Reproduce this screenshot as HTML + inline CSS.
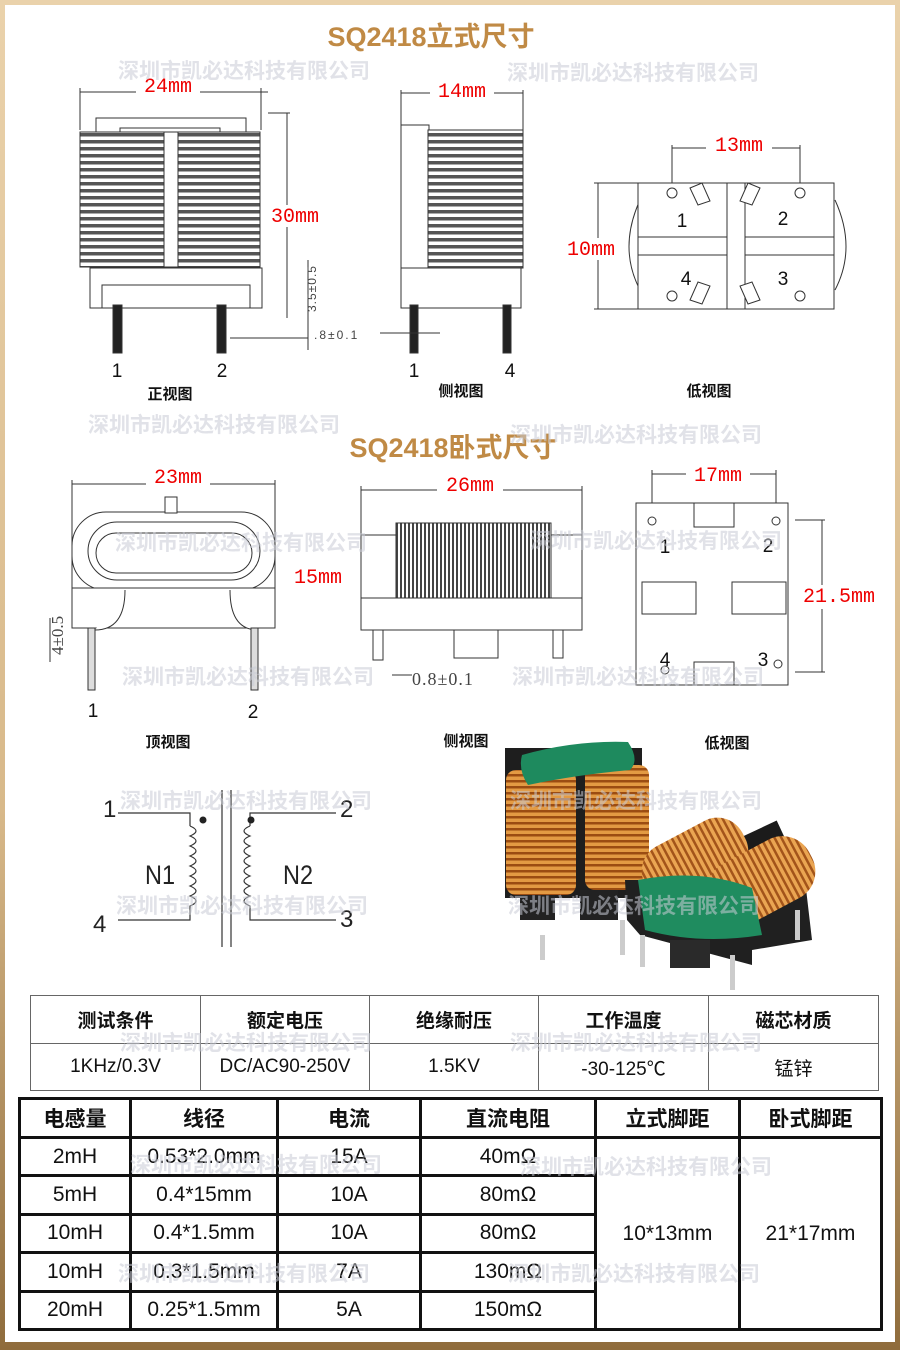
<!DOCTYPE html>
<html><head><meta charset="utf-8"><style>
html,body{margin:0;padding:0;}
body{width:900px;height:1350px;position:relative;overflow:hidden;background:linear-gradient(#ead2ab,#d8b98a 60%,#8f6c3c);font-family:"Liberation Sans","Noto Sans CJK SC",sans-serif;}
#in{position:absolute;left:5px;top:5px;width:890px;height:1337px;background:#fff;}
svg{position:absolute;left:0;top:0;}
.t{font-family:"Liberation Sans","Noto Sans CJK SC",sans-serif;}
.r{fill:#e00;font-family:"Liberation Mono","Noto Serif CJK SC",monospace;font-size:20px;}
.wm{fill:#c9ccd6;opacity:.55;font-size:21px;font-family:"Noto Sans CJK SC",sans-serif;font-weight:bold;}
.lab{font-size:15px;font-weight:bold;fill:#111;font-family:"Noto Sans CJK SC",sans-serif;}
.num{font-size:19px;fill:#111;}
table{position:absolute;border-collapse:collapse;table-layout:fixed;font-family:"Liberation Sans","Noto Sans CJK SC",sans-serif;text-align:center;color:#111;}
</style></head><body>
<div id="in"></div>
<svg width="900" height="1350" viewBox="0 0 900 1350">
<defs>
<pattern id="wind" width="6" height="7" patternUnits="userSpaceOnUse"><rect width="6" height="7" fill="#fff"/><rect y="0" width="6" height="3.5" fill="#555"/></pattern>
<pattern id="vw" width="4" height="6" patternUnits="userSpaceOnUse"><rect width="4" height="6" fill="#fff"/><rect width="2" height="6" fill="#444"/></pattern>
<pattern id="cu" width="6" height="6" patternUnits="userSpaceOnUse"><rect width="6" height="6" fill="#e39a43"/><rect width="6" height="2.5" fill="#9b4c12"/></pattern>
<pattern id="cu2" width="6" height="6" patternUnits="userSpaceOnUse"><rect width="6" height="6" fill="#eaa552"/><rect width="2.5" height="6" fill="#a3541a"/></pattern>
</defs>
<text x="431" y="46" text-anchor="middle" font-size="27" font-weight="bold" fill="#c08a45" class="t">SQ2418立式尺寸</text>
<text x="453" y="457" text-anchor="middle" font-size="27" font-weight="bold" fill="#c08a45" class="t">SQ2418卧式尺寸</text>

<!-- 正视图 -->
<g stroke="#333" fill="#fff" stroke-width="1">
<line x1="80" y1="92" x2="268" y2="92"/><line x1="80" y1="88" x2="80" y2="130"/><line x1="261" y1="88" x2="261" y2="130"/>
<rect x="96" y="118" width="150" height="14"/><rect x="120" y="128" width="100" height="10"/>
<rect x="80" y="132" width="180" height="135" fill="url(#wind)"/>
<rect x="164" y="132" width="14" height="135"/>
<rect x="90" y="268" width="172" height="40"/>
<rect x="102" y="285" width="148" height="23"/>
<rect x="113" y="305" width="9" height="48" fill="#222"/><rect x="217" y="305" width="9" height="48" fill="#222"/>
<line x1="268" y1="113" x2="290" y2="113"/><line x1="287" y1="113" x2="287" y2="318"/>
<line x1="308" y1="260" x2="308" y2="350"/><line x1="230" y1="338" x2="308" y2="338"/>
</g>
<rect x="136" y="76" width="64" height="22" fill="#fff"/><text x="168" y="92" text-anchor="middle" class="r">24mm</text>
<rect x="264" y="205" width="62" height="22" fill="#fff"/><text x="295" y="222" text-anchor="middle" class="r">30mm</text>
<text x="316" y="312" transform="rotate(-90 316 312)" font-size="12" fill="#444" letter-spacing="1">3.5±0.5</text>
<text x="314" y="339" font-size="12" fill="#444" letter-spacing="2">.8±0.1</text>
<text x="117" y="377" text-anchor="middle" class="num">1</text><text x="222" y="377" text-anchor="middle" class="num">2</text>
<text x="170" y="399" text-anchor="middle" class="lab">正视图</text>

<!-- 侧视图 upright -->
<g stroke="#333" fill="#fff">
<line x1="401" y1="93" x2="523" y2="93"/><line x1="401" y1="90" x2="401" y2="300"/><line x1="523" y1="90" x2="523" y2="140"/>
<rect x="401" y="125" width="28" height="145"/><rect x="428" y="130" width="95" height="138" fill="url(#wind)"/>
<rect x="401" y="268" width="120" height="40"/>
<rect x="410" y="305" width="8" height="48" fill="#222"/><rect x="503" y="305" width="8" height="48" fill="#222"/>
<line x1="380" y1="333" x2="440" y2="333"/>
</g>
<rect x="430" y="80" width="64" height="22" fill="#fff"/><text x="462" y="97" text-anchor="middle" class="r">14mm</text>
<text x="414" y="377" text-anchor="middle" class="num">1</text><text x="510" y="377" text-anchor="middle" class="num">4</text>
<text x="461" y="396" text-anchor="middle" class="lab">侧视图</text>

<!-- 低视图 upright -->
<g stroke="#333" fill="#fff">
<line x1="672" y1="148" x2="800" y2="148"/><line x1="672" y1="145" x2="672" y2="185"/><line x1="800" y1="145" x2="800" y2="185"/>
<path d="M640 200 Q618 248 640 290 M835 200 Q857 248 835 290"/>
<rect x="638" y="183" width="196" height="126"/>
<rect x="638" y="237" width="196" height="18"/><rect x="727" y="183" width="18" height="126"/>
<line x1="598" y1="183" x2="598" y2="309"/><line x1="594" y1="183" x2="640" y2="183"/><line x1="594" y1="309" x2="640" y2="309"/>
<circle cx="672" cy="193" r="5"/><circle cx="800" cy="193" r="5"/><circle cx="672" cy="296" r="5"/><circle cx="800" cy="296" r="5"/>
<path d="M690 188 l12 -5 l8 18 l-12 4z M760 188 l-12 -5 l-8 18 l12 4z M690 300 l12 4 l8 -18 l-12 -4z M760 300 l-12 4 l-8 -18 l12 -4z"/>
</g>
<rect x="706" y="135" width="66" height="22" fill="#fff"/><text x="739" y="151" text-anchor="middle" class="r">13mm</text>
<rect x="560" y="238" width="62" height="22" fill="#fff"/><text x="591" y="255" text-anchor="middle" class="r">10mm</text>
<text x="682" y="227" text-anchor="middle" class="num">1</text><text x="783" y="225" text-anchor="middle" class="num">2</text>
<text x="686" y="285" text-anchor="middle" class="num">4</text><text x="783" y="285" text-anchor="middle" class="num">3</text>
<text x="709" y="396" text-anchor="middle" class="lab">低视图</text>

<!-- 顶视图 horizontal -->
<g stroke="#333" fill="#fff">
<line x1="72" y1="484" x2="275" y2="484"/><line x1="72" y1="480" x2="72" y2="590"/><line x1="275" y1="480" x2="275" y2="590"/>
<rect x="72" y="512" width="203" height="78" rx="34"/><rect x="88" y="522" width="172" height="58" rx="29"/>
<rect x="96" y="533" width="156" height="40" rx="20"/>
<rect x="165" y="497" width="12" height="16"/>
<rect x="72" y="588" width="203" height="40"/>
<path d="M125 590 Q125 630 95 630 M230 590 Q230 630 258 630"/>
<rect x="88" y="628" width="7" height="62" fill="#ddd"/><rect x="251" y="628" width="7" height="62" fill="#ddd"/>
<line x1="50" y1="618" x2="50" y2="662"/>
</g>
<rect x="146" y="466" width="64" height="22" fill="#fff"/><text x="178" y="483" text-anchor="middle" class="r">23mm</text>
<text x="318" y="583" text-anchor="middle" class="r">15mm</text>
<text x="63" y="655" transform="rotate(-90 63 655)" font-size="17" fill="#444" font-family="Liberation Serif">4±0.5</text>
<text x="93" y="717" text-anchor="middle" class="num">1</text><text x="253" y="718" text-anchor="middle" class="num">2</text>
<text x="168" y="747" text-anchor="middle" class="lab">顶视图</text>

<!-- 侧视图 horizontal -->
<g stroke="#333" fill="#fff">
<line x1="361" y1="490" x2="582" y2="490"/><line x1="361" y1="486" x2="361" y2="600"/><line x1="582" y1="486" x2="582" y2="600"/>
<rect x="361" y="535" width="36" height="65"/><rect x="548" y="535" width="34" height="65"/>
<rect x="396" y="523" width="155" height="82" fill="url(#vw)"/>
<rect x="361" y="598" width="221" height="32"/>
<rect x="454" y="630" width="44" height="28"/>
<rect x="373" y="630" width="10" height="30"/><rect x="553" y="630" width="10" height="28"/>
<line x1="392" y1="675" x2="412" y2="675"/>
</g>
<rect x="437" y="474" width="66" height="22" fill="#fff"/><text x="470" y="491" text-anchor="middle" class="r">26mm</text>
<text x="412" y="685" font-size="18" fill="#444" font-family="Liberation Serif" letter-spacing="1">0.8±0.1</text>
<text x="466" y="746" text-anchor="middle" class="lab">侧视图</text>

<!-- 低视图 horizontal -->
<g stroke="#333" fill="#fff">
<line x1="652" y1="474" x2="776" y2="474"/><line x1="652" y1="470" x2="652" y2="505"/><line x1="776" y1="470" x2="776" y2="505"/>
<rect x="636" y="503" width="152" height="182"/>
<rect x="642" y="582" width="54" height="32"/><rect x="732" y="582" width="54" height="32"/>
<rect x="694" y="503" width="40" height="24"/><rect x="694" y="662" width="40" height="23"/>
<circle cx="652" cy="521" r="4"/><circle cx="776" cy="521" r="4"/><circle cx="665" cy="670" r="4"/><circle cx="778" cy="664" r="4"/>
<line x1="795" y1="520" x2="825" y2="520"/><line x1="795" y1="672" x2="825" y2="672"/><line x1="822" y1="520" x2="822" y2="672"/>
</g>
<rect x="686" y="464" width="64" height="22" fill="#fff"/><text x="718" y="481" text-anchor="middle" class="r">17mm</text>
<rect x="792" y="585" width="95" height="24" fill="#fff"/><text x="839" y="602" text-anchor="middle" class="r">21.5mm</text>
<text x="665" y="553" text-anchor="middle" class="num">1</text><text x="768" y="552" text-anchor="middle" class="num">2</text>
<text x="665" y="666" text-anchor="middle" class="num">4</text><text x="763" y="666" text-anchor="middle" class="num">3</text>
<text x="727" y="748" text-anchor="middle" class="lab">低视图</text>

<!-- schematic -->
<g stroke="#333" fill="none" stroke-width="1.2">
<line x1="222" y1="790" x2="222" y2="947"/><line x1="231" y1="790" x2="231" y2="947"/>
<path d="M118 813 H190 V826"/><path d="M118 920 H190 V908"/>
<path d="M336 813 H250 V826"/><path d="M336 920 H250 V908"/>
<path d="M190 826 q12 5 0 10 q12 5 0 10 q12 5 0 10 q12 5 0 10 q12 5 0 10 q12 5 0 10 q12 5 0 10 q12 5 0 10 V908"/>
<path d="M250 826 q-12 5 0 10 q-12 5 0 10 q-12 5 0 10 q-12 5 0 10 q-12 5 0 10 q-12 5 0 10 q-12 5 0 10 q-12 5 0 10 V908"/>
</g>
<circle cx="203" cy="820" r="3.5" fill="#222"/><circle cx="251" cy="820" r="3.5" fill="#222"/>
<text x="103" y="817" font-size="24" fill="#222">1</text>
<text x="340" y="817" font-size="24" fill="#222">2</text>
<text x="93" y="932" font-size="24" fill="#222">4</text><text x="340" y="927" font-size="24" fill="#222">3</text>
<text x="145" y="884" font-size="27" fill="#222" textLength="30" lengthAdjust="spacingAndGlyphs">N1</text>
<text x="283" y="884" font-size="27" fill="#222" textLength="30" lengthAdjust="spacingAndGlyphs">N2</text>

<!-- photo -->
<g>
<rect x="505" y="748" width="137" height="150" fill="#1e1e1e"/>
<rect x="520" y="890" width="35" height="30" fill="#222"/><rect x="580" y="890" width="38" height="30" fill="#222"/>
<rect x="540" y="935" width="5" height="25" fill="#ccc"/><rect x="620" y="920" width="5" height="35" fill="#ccc"/>
<rect x="506" y="770" width="70" height="125" rx="10" fill="url(#cu)"/>
<rect x="585" y="765" width="64" height="125" rx="10" fill="url(#cu)"/>
<path d="M522 755 Q575 740 628 742 Q640 760 630 770 Q575 775 528 785 Q518 770 522 755z" fill="#1e8a5e"/>
<path d="M625 880 L805 880 L812 940 L752 950 L752 965 L640 935 L627 920z" fill="#202020"/>
<rect x="670" y="940" width="40" height="28" fill="#2a2a2a"/>
<rect x="640" y="935" width="5" height="32" fill="#ccc"/><rect x="730" y="955" width="5" height="35" fill="#ccc"/><rect x="795" y="910" width="5" height="30" fill="#ccc"/>
<rect x="690" y="840" width="95" height="18" fill="#1b1b1b" transform="rotate(-25 737 849)"/>
<rect x="640" y="830" width="110" height="62" rx="28" fill="url(#cu2)" transform="rotate(-28 695 861)"/>
<rect x="705" y="848" width="112" height="66" rx="30" fill="url(#cu2)" transform="rotate(-28 761 881)"/>
<path d="M638 880 Q700 868 752 888 L762 935 Q700 945 645 930z" fill="#1f8c5f"/>
</g>
</svg>

<table style="left:30px;top:995px;width:849px;height:96px;border:1px solid #666;">
<colgroup><col style="width:170px"><col style="width:169px"><col style="width:169px"><col style="width:170px"><col></colgroup>
<tr style="height:48px;font-size:19px;font-weight:bold;"><td style="border:1px solid #666">测试条件</td><td style="border:1px solid #666">额定电压</td><td style="border:1px solid #666">绝缘耐压</td><td style="border:1px solid #666">工作温度</td><td style="border:1px solid #666">磁芯材质</td></tr>
<tr style="font-size:19px;"><td style="border:1px solid #666">1KHz/0.3V</td><td style="border:1px solid #666">DC/AC90-250V</td><td style="border:1px solid #666">1.5KV</td><td style="border:1px solid #666">-30-125℃</td><td style="border:1px solid #666">锰锌</td></tr>
</table>

<table style="left:18px;top:1097px;width:865px;height:234px;border:3px solid #111;font-size:21px;">
<colgroup><col style="width:111px"><col style="width:147px"><col style="width:143px"><col style="width:175px"><col style="width:144px"><col></colgroup>
<tr style="font-weight:bold;height:39px;"><td style="border:3px solid #111">电感量</td><td style="border:3px solid #111">线径</td><td style="border:3px solid #111">电流</td><td style="border:3px solid #111">直流电阻</td><td style="border:3px solid #111">立式脚距</td><td style="border:3px solid #111">卧式脚距</td></tr>
<tr><td style="border:3px solid #111">2mH</td><td style="border:3px solid #111">0.53*2.0mm</td><td style="border:3px solid #111">15A</td><td style="border:3px solid #111">40mΩ</td><td rowspan="5" style="border:3px solid #111">10*13mm</td><td rowspan="5" style="border:3px solid #111">21*17mm</td></tr>
<tr><td style="border:3px solid #111">5mH</td><td style="border:3px solid #111">0.4*15mm</td><td style="border:3px solid #111">10A</td><td style="border:3px solid #111">80mΩ</td></tr>
<tr><td style="border:3px solid #111">10mH</td><td style="border:3px solid #111">0.4*1.5mm</td><td style="border:3px solid #111">10A</td><td style="border:3px solid #111">80mΩ</td></tr>
<tr><td style="border:3px solid #111">10mH</td><td style="border:3px solid #111">0.3*1.5mm</td><td style="border:3px solid #111">7A</td><td style="border:3px solid #111">130mΩ</td></tr>
<tr><td style="border:3px solid #111">20mH</td><td style="border:3px solid #111">0.25*1.5mm</td><td style="border:3px solid #111">5A</td><td style="border:3px solid #111">150mΩ</td></tr>
</table>

<svg width="900" height="1350" style="pointer-events:none">
<text x="118" y="78" class="wm">深圳市凯必达科技有限公司</text>
<text x="507" y="80" class="wm">深圳市凯必达科技有限公司</text>
<text x="88" y="432" class="wm">深圳市凯必达科技有限公司</text>
<text x="510" y="442" class="wm">深圳市凯必达科技有限公司</text>
<text x="115" y="550" class="wm">深圳市凯必达科技有限公司</text>
<text x="530" y="548" class="wm">深圳市凯必达科技有限公司</text>
<text x="122" y="684" class="wm">深圳市凯必达科技有限公司</text>
<text x="512" y="684" class="wm">深圳市凯必达科技有限公司</text>
<text x="120" y="808" class="wm">深圳市凯必达科技有限公司</text>
<text x="510" y="808" class="wm">深圳市凯必达科技有限公司</text>
<text x="116" y="913" class="wm">深圳市凯必达科技有限公司</text>
<text x="508" y="913" class="wm">深圳市凯必达科技有限公司</text>
<text x="120" y="1050" class="wm">深圳市凯必达科技有限公司</text>
<text x="510" y="1050" class="wm">深圳市凯必达科技有限公司</text>
<text x="130" y="1172" class="wm">深圳市凯必达科技有限公司</text>
<text x="520" y="1174" class="wm">深圳市凯必达科技有限公司</text>
<text x="118" y="1281" class="wm">深圳市凯必达科技有限公司</text>
<text x="508" y="1281" class="wm">深圳市凯必达科技有限公司</text>
</svg>
</body></html>
